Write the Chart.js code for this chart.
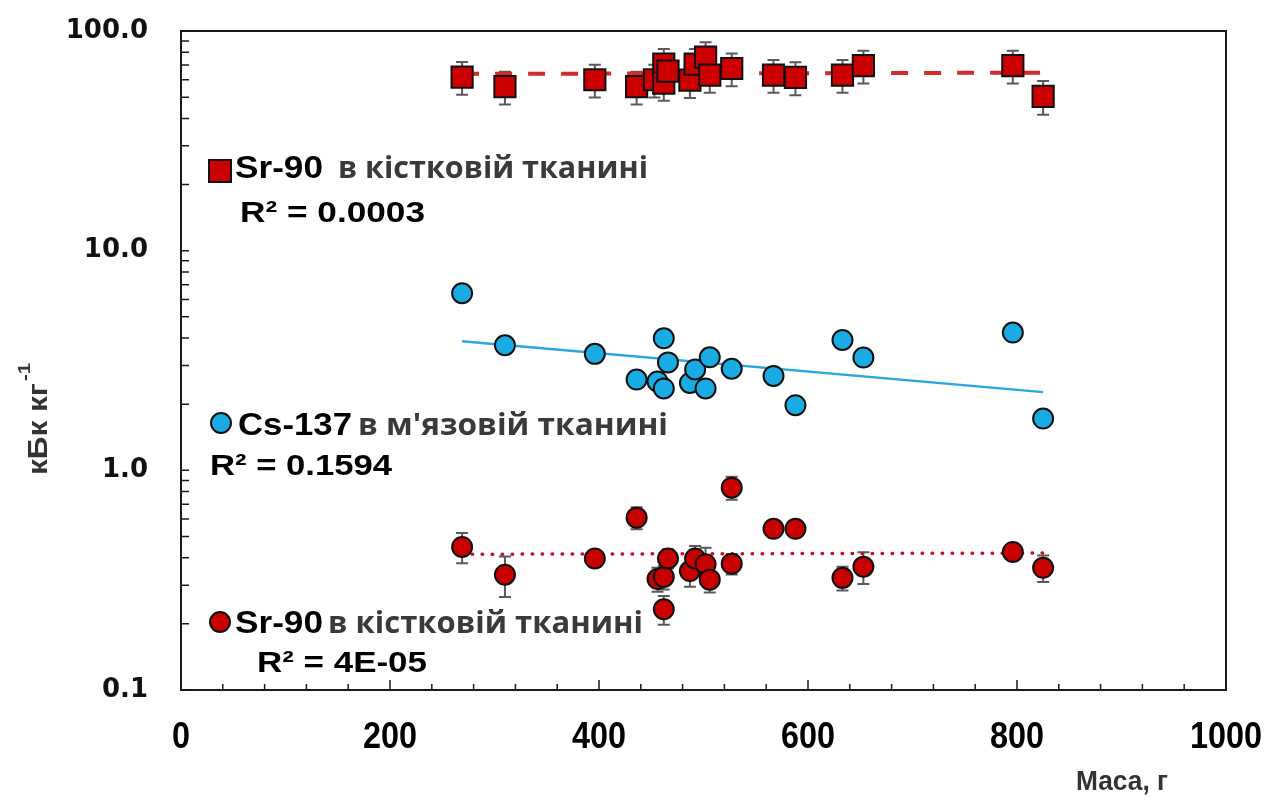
<!DOCTYPE html>
<html>
<head>
<meta charset="utf-8">
<script src="https://cdn.jsdelivr.net/npm/chart.js@4.4.1/dist/chart.umd.min.js"></script>
<style>
  html, body { margin: 0; padding: 0; background: #fff; }
  #chart { display: block; }
</style>
</head>
<body>
<canvas id="chart" width="1283" height="800"></canvas>
<script>
// Sr-90, bone tissue (squares), kBq/kg
const massSrBone = [269, 310, 396, 436, 453, 462, 462, 466, 487, 492, 502, 506, 527, 567, 588, 633, 653, 796, 825];
const srBone = [61.7, 55.8, 60.0, 55.8, 60.0, 70.7, 57.9, 65.7, 59.8, 70.7, 76.0, 63.0, 67.5, 63.0, 61.5, 63.0, 69.5, 69.5, 50.4];
const srBoneErr = [10.5, 9.5, 10.2, 9.5, 10.2, 12.0, 9.8, 11.2, 10.2, 12.0, 12.9, 10.7, 11.5, 10.7, 10.5, 10.7, 11.8, 11.8, 8.8];

// Cs-137, muscle tissue (blue circles)
const massCs = [269, 310, 396, 436, 456, 462, 466, 462, 487, 492, 502, 506, 527, 567, 588, 633, 653, 796, 825];
const csMuscle = [6.40, 3.71, 3.39, 2.59, 2.54, 3.99, 3.10, 2.36, 2.50, 2.88, 2.36, 3.27, 2.90, 2.69, 1.98, 3.92, 3.26, 4.24, 1.72];

// Sr-90, bone tissue (red circles)
const massSr2 = [269, 310, 396, 436, 456, 462, 466, 462, 487, 492, 502, 506, 527, 527, 567, 588, 633, 653, 796, 825];
const srCircle = [0.448, 0.335, 0.397, 0.609, 0.320, 0.327, 0.397, 0.233, 0.348, 0.397, 0.374, 0.318, 0.834, 0.376, 0.542, 0.542, 0.324, 0.364, 0.425, 0.360];
const srCircleErr = [0.07, 0.07, 0.03, 0.07, 0.04, 0.04, 0.04, 0.035, 0.053, 0.056, 0.07, 0.04, 0.10, 0.04, 0.04, 0.04, 0.04, 0.06, 0.03, 0.05];

// trend lines (ends)
const trendMass = [269, 825];
const srBoneTrend = [63.8, 64.6];
const csTrend = [3.87, 2.27];
const srCircleTrend = [0.415, 0.42];

const xTickLabels = [0, 200, 400, 600, 800, 1000];
const yTickLabels = [0.1, 1, 10, 100];

const pts = (xs, ys) => xs.map((x, i) => ({ x: x, y: ys[i] }));

const BOLD = '"Liberation Sans", Arial, sans-serif';
const OPEN = '"Open Sans", "Liberation Sans", sans-serif';

// text squeezed / stretched to the width it takes in the picture
function fitText(ctx, txt, x, y, size, target, color, align, family) {
  ctx.save();
  ctx.font = 'bold ' + size + 'px ' + (family || BOLD);
  const w = ctx.measureText(txt).width;
  const sx = target ? target / w : 1;
  ctx.fillStyle = color || '#000';
  ctx.textBaseline = 'alphabetic';
  ctx.textAlign = 'left';
  let x0 = x;
  if (align === 'center') x0 = x - w * sx / 2;
  if (align === 'right') x0 = x - w * sx;
  ctx.translate(x0, y);
  ctx.scale(sx, 1);
  ctx.fillText(txt, 0, 0);
  ctx.restore();
}

const errorBars = {
  id: 'errorBars',
  beforeDatasetsDraw(chart) {
    const { ctx, scales: { x, y } } = chart;
    ctx.save();
    ctx.strokeStyle = '#5a5a5a';
    ctx.lineWidth = 2;
    chart.data.datasets.forEach(ds => {
      if (!ds.errors) return;
      ds.data.forEach((p, i) => {
        const e = ds.errors[i];
        const px = x.getPixelForValue(p.x);
        const top = y.getPixelForValue(p.y + e);
        const bot = y.getPixelForValue(p.y - e);
        ctx.beginPath();
        ctx.moveTo(px, top); ctx.lineTo(px, bot);
        ctx.moveTo(px - 6, top); ctx.lineTo(px + 6, top);
        ctx.moveTo(px - 6, bot); ctx.lineTo(px + 6, bot);
        ctx.stroke();
      });
    });
    ctx.restore();
  }
};

const frame = {
  id: 'frame',
  beforeDatasetsDraw(chart) {
    const { ctx, chartArea: a, scales: { x, y } } = chart;
    ctx.save();
    ctx.strokeStyle = '#1a1a1a';
    ctx.lineWidth = 2;
    ctx.strokeRect(a.left, a.top, a.right - a.left, a.bottom - a.top);
    ctx.lineWidth = 1.5;
    ctx.beginPath();
    // y minor/major ticks, inside
    for (let d = 0.1; d < 100; d *= 10) {
      for (let k = 1; k <= 10; k++) {
        const py = y.getPixelForValue(d * k);
        ctx.moveTo(a.left, py); ctx.lineTo(a.left + 8, py);
      }
    }
    // x ticks, inside
    for (let v = 0; v <= 1000; v += 40) {
      const px = x.getPixelForValue(v);
      const len = v % 200 === 0 ? 10 : 6;
      ctx.moveTo(px, a.bottom); ctx.lineTo(px, a.bottom - len);
    }
    ctx.stroke();
    ctx.restore();
  },
  afterDraw(chart) {
    const { ctx, scales: { x } } = chart;
    // x tick labels, condensed bold
    xTickLabels.forEach(v => {
      const t = String(v);
      fitText(ctx, t, x.getPixelForValue(v), 748, 36, t.length * 18, '#000', 'center');
    });
    // axis titles
    fitText(ctx, 'Маса, г', 1168, 790, 28, 92, '#333', 'right');
    ctx.save();
    ctx.translate(47, 475);
    ctx.rotate(-Math.PI / 2);
    fitText(ctx, 'кБк кг', 0, 0, 27, 92, '#333', 'left');
    fitText(ctx, '-1', 94, -17, 16, 18, '#333', 'left');
    ctx.restore();

    // legend glyphs and labels
    ctx.save();
    ctx.lineWidth = 2;
    ctx.strokeStyle = '#111';
    ctx.fillStyle = '#cc0000';
    ctx.fillRect(209, 160, 22, 22);
    ctx.strokeRect(209, 160, 22, 22);
    ctx.beginPath(); ctx.arc(221, 423, 10, 0, Math.PI * 2);
    ctx.fillStyle = '#18abe4'; ctx.fill(); ctx.stroke();
    ctx.beginPath(); ctx.arc(220, 622, 10, 0, Math.PI * 2);
    ctx.fillStyle = '#c80000'; ctx.fill(); ctx.stroke();
    ctx.restore();

    fitText(ctx, 'Sr-90', 235, 178, 32, 88, '#000');
    fitText(ctx, 'в кістковій тканині', 338, 178, 30, 310, '#3a3a3a', 'left', OPEN);
    fitText(ctx, 'R² = 0.0003', 240, 222, 30, 185, '#000');

    fitText(ctx, 'Cs-137', 238, 435, 32, 114, '#000');
    fitText(ctx, "в м'язовій тканині", 358, 435, 30, 310, '#3a3a3a', 'left', OPEN);
    fitText(ctx, 'R² = 0.1594', 210, 475, 30, 182, '#000');

    fitText(ctx, 'Sr-90', 235, 633, 32, 88, '#000');
    fitText(ctx, 'в кістковій тканині', 328, 633, 30, 315, '#3a3a3a', 'left', OPEN);
    fitText(ctx, 'R² = 4E-05', 257, 672, 30, 170, '#000');
  }
};

new Chart(document.getElementById('chart'), {
  type: 'scatter',
  data: {
    datasets: [
      {
        label: 'Sr-90 в кістковій тканині',
        data: pts(massSrBone, srBone),
        errors: srBoneErr,
        pointStyle: 'rect',
        pointRadius: 15,
        backgroundColor: '#cc0000',
        borderColor: '#111',
        borderWidth: 2,
        order: 1
      },
      {
        label: 'Cs-137 в м\'язовій тканині',
        data: pts(massCs, csMuscle),
        pointStyle: 'circle',
        pointRadius: 10,
        backgroundColor: '#18abe4',
        borderColor: '#111',
        borderWidth: 2,
        order: 1
      },
      {
        label: 'Sr-90 в кістковій тканині ',
        data: pts(massSr2, srCircle),
        errors: srCircleErr,
        pointStyle: 'circle',
        pointRadius: 10,
        backgroundColor: '#c80000',
        borderColor: '#111',
        borderWidth: 2,
        order: 1
      },
      {
        type: 'line',
        data: pts(trendMass, srBoneTrend),
        showLine: true,
        borderColor: '#d42a2a',
        borderWidth: 4,
        borderDash: [17, 16],
        pointRadius: 0,
        fill: false,
        order: 5
      },
      {
        type: 'line',
        data: pts(trendMass, csTrend),
        showLine: true,
        borderColor: '#2aa7e0',
        borderWidth: 2.5,
        pointRadius: 0,
        fill: false,
        order: 5
      },
      {
        type: 'line',
        data: pts(trendMass, srCircleTrend),
        showLine: true,
        borderColor: '#c8102e',
        borderWidth: 3.5,
        borderDash: [0.5, 9.5],
        borderCapStyle: 'round',
        pointRadius: 0,
        fill: false,
        order: 5
      }
    ]
  },
  options: {
    responsive: false,
    animation: false,
    layout: { padding: { top: 31, right: 57, left: 0, bottom: 0 } },
    plugins: { legend: { display: false }, tooltip: { enabled: false } },
    scales: {
      x: {
        type: 'linear',
        min: 0, max: 1000,
        ticks: { stepSize: 200, display: false },
        grid: { display: false, drawTicks: false },
        border: { display: false },
        afterFit: s => { s.height = 110; s.paddingLeft = 0; s.paddingRight = 0; }
      },
      y: {
        type: 'logarithmic',
        min: 0.1, max: 100,
        afterBuildTicks: s => { s.ticks = yTickLabels.map(v => ({ value: v })); },
        ticks: {
          callback: v => Number(v).toFixed(1),
          padding: 33,
          color: '#111',
          font: { family: '"DejaVu Sans", sans-serif', weight: 'bold', size: 26 }
        },
        grid: { display: false, drawTicks: false },
        border: { display: false },
        afterFit: s => { s.width = 181; s.paddingTop = 0; s.paddingBottom = 0; }
      }
    }
  },
  plugins: [errorBars, frame]
});
</script>
</body>
</html>
